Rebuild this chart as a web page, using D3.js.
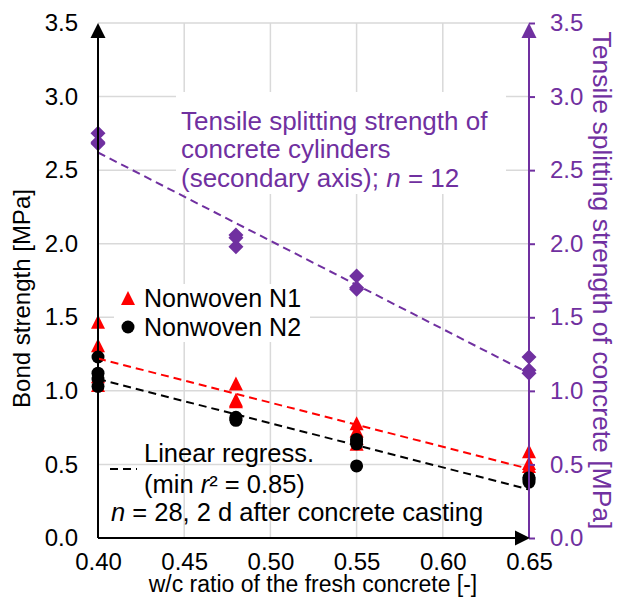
<!DOCTYPE html>
<html>
<head>
<meta charset="utf-8">
<script src="https://cdn.jsdelivr.net/npm/d3@7"></script>
<style>
  body { margin: 0; background: #fff; }
  svg text { font-family: "Liberation Sans", Arial, sans-serif; }
</style>
</head>
<body>
<svg id="chart" width="618" height="612"></svg>
<script>
// Bond strength of nonwoven N1 (primary axis, MPa)
const n1Wc   = [0.40, 0.40, 0.40, 0.40, 0.48, 0.48, 0.48, 0.55, 0.55, 0.55, 0.55, 0.65, 0.65, 0.65];
const n1Bond = [1.47, 1.31, 1.10, 1.04, 1.05, 0.94, 0.93, 0.78, 0.73, 0.68, 0.64, 0.59, 0.51, 0.49];
// Bond strength of nonwoven N2 (primary axis, MPa)
const n2Wc   = [0.40, 0.40, 0.40, 0.40, 0.48, 0.48, 0.48, 0.55, 0.55, 0.55, 0.55, 0.65, 0.65, 0.65];
const n2Bond = [1.23, 1.12, 1.08, 1.03, 0.81, 0.82, 0.80, 0.67, 0.64, 0.66, 0.49, 0.41, 0.38, 0.40];
// Tensile splitting strength of the cylinders (secondary axis, MPa)
const splitWc       = [0.40, 0.40, 0.40, 0.48, 0.48, 0.48, 0.55, 0.55, 0.55, 0.65, 0.65, 0.65];
const splitStrength = [2.75, 2.68, 2.69, 2.06, 1.98, 2.04, 1.78, 1.69, 1.70, 1.23, 1.14, 1.12];
// Linear regression lines, evaluated at both ends of the w/c range
const trendWc    = [0.40, 0.65];
const trendN1    = [1.22, 0.47];
const trendN2    = [1.08, 0.33];
const trendSplit = [2.62, 1.12];
// Tick values
const xTicks = [0.40, 0.45, 0.50, 0.55, 0.60, 0.65];
const yTicks = [0.0, 0.5, 1.0, 1.5, 2.0, 2.5, 3.0, 3.5];

const RED = "#ff0000", PURPLE = "#7030a0", GRID = "#d9d9d9";

const svg = d3.select("#chart");
const m = { left: 98, right: 529, top: 23, bottom: 538 };

const x  = d3.scaleLinear().domain([0.40, 0.65]).range([m.left, m.right]);
const y  = d3.scaleLinear().domain([0, 3.5]).range([m.bottom, m.top]);
const y2 = d3.scaleLinear().domain([0, 3.5]).range([m.bottom, m.top]);

// Gridlines
const grid = svg.append("g").attr("stroke", GRID).attr("stroke-width", 1.5);
grid.selectAll("line.h").data(yTicks.filter(d => d > 0)).join("line")
  .attr("x1", m.left).attr("x2", m.right)
  .attr("y1", d => y(d)).attr("y2", d => y(d));
grid.selectAll("line.v").data(xTicks.slice(1, -1)).join("line")
  .attr("x1", d => x(d)).attr("x2", d => x(d))
  .attr("y1", m.top).attr("y2", m.bottom);

// White backgrounds of the text boxes
svg.append("rect").attr("x", 176).attr("y", 92).attr("width", 330).attr("height", 102).attr("fill", "#fff");
svg.append("rect").attr("x", 114).attr("y", 284).attr("width", 196).attr("height", 58).attr("fill", "#fff");

// Marker shapes
const triPath = "M0,-7L7,7L-7,7Z";
const diaPath = "M0,-7.5L7.5,0L0,7.5L-7.5,0Z";

// Splitting strength diamonds
svg.append("g").selectAll("path").data(d3.zip(splitWc, splitStrength)).join("path")
  .attr("d", diaPath).attr("fill", PURPLE)
  .attr("transform", d => `translate(${x(d[0])},${y2(d[1])})`);

// N1 triangles
svg.append("g").selectAll("path").data(d3.zip(n1Wc, n1Bond)).join("path")
  .attr("d", triPath).attr("fill", RED)
  .attr("transform", d => `translate(${x(d[0])},${y(d[1])})`);

// N2 circles
svg.append("g").selectAll("circle").data(d3.zip(n2Wc, n2Bond)).join("circle")
  .attr("r", 6.5).attr("fill", "#000")
  .attr("cx", d => x(d[0])).attr("cy", d => y(d[1]));

// Regression lines
const trend = (vals, scale, color) => {
  svg.append("path")
    .datum(d3.zip(trendWc, vals))
    .attr("d", d3.line().x(d => x(d[0])).y(d => scale(d[1])))
    .attr("fill", "none").attr("stroke", color).attr("stroke-width", 2)
    .attr("stroke-dasharray", "8,5");
};
trend(trendN1, y, RED);
trend(trendN2, y, "#000");
trend(trendSplit, y2, PURPLE);

// Axes: tick labels
const xAxis = svg.append("g").attr("transform", `translate(0,${m.bottom})`)
  .call(d3.axisBottom(x).tickValues(xTicks).tickFormat(d3.format(".2f")).tickSize(0).tickPadding(20));
const yAxis = svg.append("g").attr("transform", `translate(${m.left},0)`)
  .call(d3.axisLeft(y).tickValues(yTicks).tickFormat(d3.format(".1f")).tickSize(0).tickPadding(20));
const y2Axis = svg.append("g").attr("transform", `translate(${m.right},0)`)
  .call(d3.axisRight(y2).tickValues(yTicks).tickFormat(d3.format(".1f")).tickSizeInner(6).tickSizeOuter(0).tickPadding(15));
[xAxis, yAxis, y2Axis].forEach(a => {
  a.select(".domain").remove();
  a.selectAll("text").attr("font-size", 24).attr("font-family", null);
});
xAxis.selectAll("text").attr("fill", "#000").attr("dy", "0.5em");
yAxis.selectAll("text").attr("fill", "#000");
y2Axis.selectAll("text").attr("fill", PURPLE);
y2Axis.selectAll(".tick line").attr("stroke", PURPLE).attr("stroke-width", 2);

// Axis lines with arrowheads
svg.append("line").attr("x1", m.left).attr("x2", m.left).attr("y1", m.bottom).attr("y2", m.top + 8)
  .attr("stroke", "#000").attr("stroke-width", 2);
svg.append("path").attr("d", `M${m.left},${m.top}L${m.left + 7.5},${m.top + 15}L${m.left - 7.5},${m.top + 15}Z`).attr("fill", "#000");

svg.append("line").attr("x1", m.right).attr("x2", m.right).attr("y1", m.bottom).attr("y2", m.top + 8)
  .attr("stroke", PURPLE).attr("stroke-width", 2);
svg.append("path").attr("d", `M${m.right},${m.top}L${m.right + 7.5},${m.top + 15}L${m.right - 7.5},${m.top + 15}Z`).attr("fill", PURPLE);

svg.append("line").attr("x1", m.left).attr("x2", m.right - 8).attr("y1", m.bottom).attr("y2", m.bottom)
  .attr("stroke", "#000").attr("stroke-width", 2);
svg.append("path").attr("d", `M${m.right + 1},${m.bottom}L${m.right - 14},${m.bottom - 7.5}L${m.right - 14},${m.bottom + 7.5}Z`).attr("fill", "#000");

// Axis titles
svg.append("text").attr("x", 313).attr("y", 592)
  .attr("text-anchor", "middle").attr("font-size", 23)
  .text("w/c ratio of the fresh concrete [-]");
svg.append("text").attr("transform", `translate(30,${(m.top + m.bottom) / 2 + 18}) rotate(-90)`)
  .attr("text-anchor", "middle").attr("font-size", 24)
  .text("Bond strength [MPa]");
svg.append("text").attr("transform", `translate(593,${(m.top + m.bottom) / 2}) rotate(90)`)
  .attr("text-anchor", "middle").attr("font-size", 26.5).attr("fill", PURPLE)
  .text("Tensile splitting strength of concrete [MPa]");

// Annotation: splitting tensile strength
const note = svg.append("text").attr("font-size", 26).attr("fill", PURPLE);
note.append("tspan").attr("x", 181).attr("y", 129.5).text("Tensile splitting strength of");
note.append("tspan").attr("x", 181).attr("y", 158).text("concrete cylinders");
note.append("tspan").attr("x", 181).attr("y", 186.5).text("(secondary axis); ");
note.append("tspan").attr("font-style", "italic").text("n");
note.append("tspan").text(" = 12");

// Legend
const legend = svg.append("g");
legend.append("path").attr("d", triPath).attr("fill", RED).attr("transform", "translate(128,298)");
legend.append("circle").attr("cx", 128).attr("cy", 327).attr("r", 6.5).attr("fill", "#000");
legend.append("text").attr("x", 144).attr("y", 306.5).attr("font-size", 25).text("Nonwoven N1");
legend.append("text").attr("x", 144).attr("y", 335.5).attr("font-size", 25).text("Nonwoven N2");

// Regression and sample-size notes
svg.append("line").attr("x1", 110).attr("x2", 137).attr("y1", 469).attr("y2", 469)
  .attr("stroke", "#000").attr("stroke-width", 2).attr("stroke-dasharray", "8,5");
svg.append("text").attr("x", 144).attr("y", 462).attr("font-size", 25.5).text("Linear regress.");
const r2 = svg.append("text").attr("x", 144).attr("y", 493).attr("font-size", 25.5);
r2.append("tspan").text("(min ");
r2.append("tspan").attr("font-style", "italic").text("r");
r2.append("tspan").text("² = 0.85)");
const nNote = svg.append("text").attr("x", 111).attr("y", 521).attr("font-size", 25.5);
nNote.append("tspan").attr("font-style", "italic").text("n");
nNote.append("tspan").text(" = 28, 2 d after concrete casting");
</script>
</body>
</html>
